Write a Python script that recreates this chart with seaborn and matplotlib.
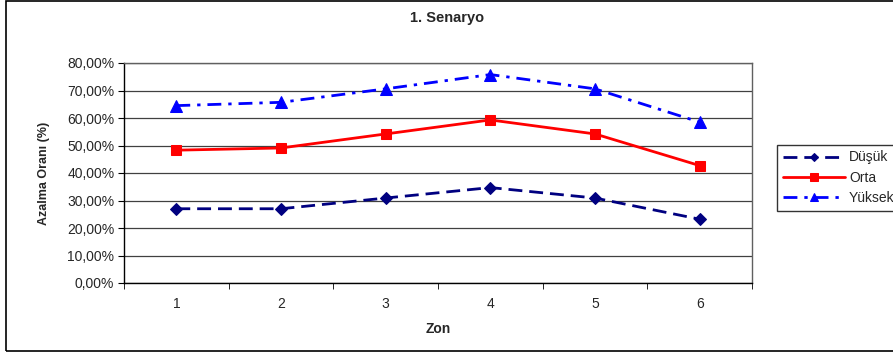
import pandas as pd
import seaborn as sns
import matplotlib.pyplot as plt
from matplotlib.patches import Rectangle
from matplotlib.ticker import FuncFormatter, FixedLocator

# Data (percent)
zones = [1, 2, 3, 4, 5, 6]
dusuk = [27.0, 27.0, 30.9, 34.7, 30.9, 23.2]
orta = [48.3, 49.1, 54.2, 59.3, 54.2, 42.7]
yuksek = [64.5, 65.7, 70.6, 75.8, 70.6, 58.5]
series_names = ["Düşük", "Orta", "Yüksek"]

sns.set_style("white")
plt.rcParams['font.family'] = ['Liberation Sans', 'DejaVu Sans']

df = pd.DataFrame({
    "Zon": zones * 3,
    "value": dusuk + orta + yuksek,
    "series": [s for s in series_names for _ in zones],
})

fig = plt.figure(figsize=(8.93, 3.59), dpi=100)
ax = fig.add_axes([124 / 893, 1 - 283 / 359, (752 - 124) / 893, (283 - 63) / 359])

styles = {
    "Düşük": dict(color="#000080", marker="D", markersize=6, dashes=(5, 2.5)),
    "Orta": dict(color="#FF0000", marker="s", markersize=7, dashes=None),
    "Yüksek": dict(color="#0000FF", marker="^", markersize=8, dashes=(5, 2.5, 1.2, 2.5)),
}

for name in series_names:
    st = styles[name]
    sub = df[df["series"] == name]
    sns.lineplot(data=sub, x="Zon", y="value", ax=ax, color=st["color"],
                 marker=st["marker"], markersize=st["markersize"],
                 markeredgecolor=st["color"], linewidth=2, label=name)
    if st["dashes"]:
        ax.lines[-1].set_dashes(st["dashes"])

ax.set_xlim(0.5, 6.5)
ax.set_ylim(0, 80)
ax.set_yticks(range(0, 81, 10))
ax.yaxis.set_major_formatter(FuncFormatter(lambda v, p: f"{v:.2f}".replace(".", ",") + "%"))
ax.set_xticks(zones)
ax.xaxis.set_minor_locator(FixedLocator([0.5 + i for i in range(7)]))
ax.tick_params(axis="x", which="major", length=0, labelsize=10, pad=10)
ax.tick_params(axis="x", which="minor", length=4, direction="out", color="black", bottom=True)
ax.tick_params(axis="y", length=4, direction="out", color="black", left=True, labelsize=10, pad=3)
ax.grid(axis="y", color="#404040", linewidth=0.9)
ax.set_axisbelow(True)
for sp in ax.spines.values():
    sp.set_color("#606060")
    sp.set_linewidth(1)
ax.spines["left"].set_color("black")
ax.spines["bottom"].set_color("black")

ax.set_xlabel("Zon", fontsize=10, fontweight="bold", labelpad=8)
ax.set_ylabel("Azalma Oranı (%)", fontsize=9, fontweight="bold", labelpad=12)
fig.text(447 / 893, 1 - 18 / 359, "1. Senaryo", ha="center", va="center",
         fontsize=10.5, fontweight="bold")

leg = ax.legend(loc="upper left", bbox_to_anchor=(770 / 893, 1 - 138 / 359),
                bbox_transform=fig.transFigure, frameon=True, fancybox=False,
                fontsize=10, handlelength=4.5, handletextpad=0.3, markerscale=0.75,
                borderpad=0.4, labelspacing=0.45)
leg.get_frame().set_edgecolor("black")
leg.get_frame().set_linewidth(1)

fig.patches.append(Rectangle((6 / 893, 8 / 359), 900 / 893, 350 / 359, transform=fig.transFigure,
                             fill=False, edgecolor="black", linewidth=1.2))

fig.savefig("out.png", dpi=100)
